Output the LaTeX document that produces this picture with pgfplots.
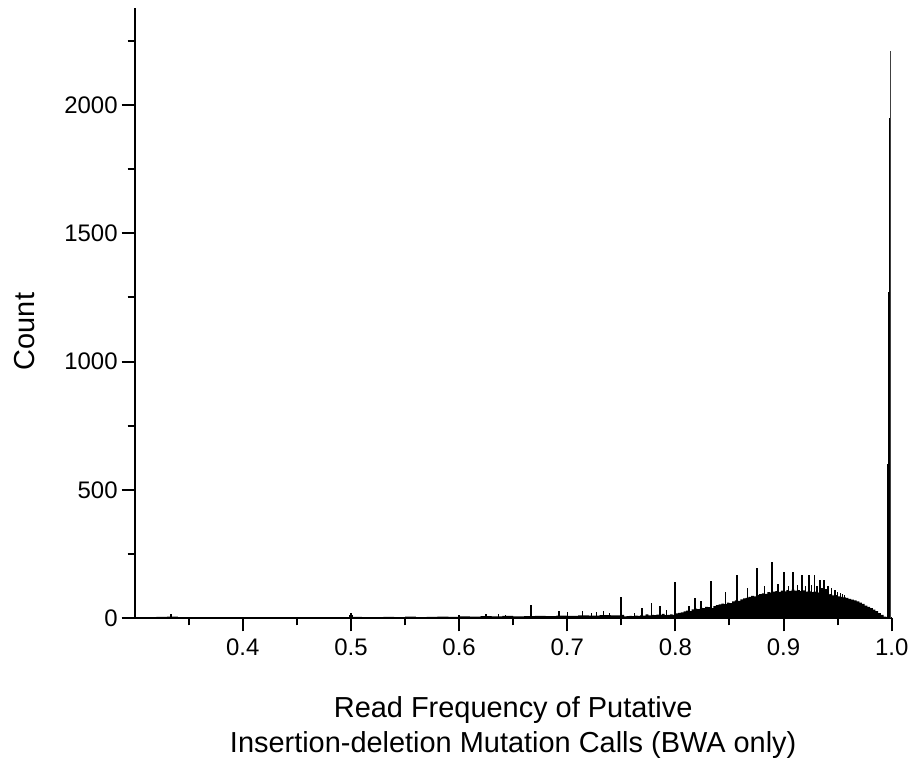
\documentclass[border=0pt]{standalone}
\usepackage{fontspec}
\setmainfont{Liberation Sans}
\usepackage{pgfplots}
\pgfplotsset{compat=1.18}

\begin{document}
\begin{tikzpicture}
\begin{axis}[
    scale only axis,
    width=379.5pt,
    height=306pt,
    xmin=0.3, xmax=1.0,
    ymin=0, ymax=2377,
    axis lines*=left,
    axis line style={line width=1pt},
    tick align=outside,
    major tick length=6.5pt,
    minor tick length=3.5pt,
    every tick/.style={line width=1pt, black},
    xtick={0.4,0.5,0.6,0.7,0.8,0.9,1.0},
    minor xtick={0.35,0.45,0.55,0.65,0.75,0.85,0.95},
    ytick={0,500,1000,1500,2000},
    minor ytick={250,750,1250,1750,2250},
    x tick label style={/pgf/number format/.cd, fixed, fixed zerofill, precision=1, /tikz/.cd},
    y tick label style={/pgf/number format/.cd, 1000 sep={}, /tikz/.cd, xshift=1.5pt},
    /pgf/number format/assume math mode=true,
    tick label style={font=\fontsize{12}{14}\selectfont},
    label style={font=\fontsize{14.5}{17.5}\selectfont},
    xlabel={Read Frequency of Putative\\Insertion-deletion Mutation Calls (BWA only)},
    xlabel style={align=center, yshift=-14pt},
    ylabel={Count},
    ylabel style={at={(ticklabel cs:0.47)}, yshift=8pt},
]
% background of the histogram (left edge of bin, count)
\addplot[fill=black, draw=none, const plot] table {
x y
0.300 5
0.310 4
0.320 6
0.330 7
0.340 4
0.350 5
0.360 3
0.370 5
0.380 4
0.390 3
0.400 4
0.410 3
0.420 5
0.430 3
0.440 4
0.450 3
0.460 5
0.470 4
0.480 3
0.490 5
0.500 6
0.510 4
0.520 5
0.530 6
0.540 5
0.550 7
0.560 5
0.570 6
0.580 7
0.590 6
0.600 8
0.610 7
0.620 9
0.630 8
0.640 10
0.650 8
0.660 9
0.670 10
0.680 9
0.690 11
0.700 10
0.710 12
0.720 11
0.730 13
0.740 12
0.750 14
0.7525 8
0.7550 9
0.7575 10
0.7600 9
0.7625 11
0.7650 10
0.7675 13
0.7700 11
0.7725 16
0.7750 12
0.7775 14
0.7800 13
0.7825 15
0.7850 14
0.7875 18
0.7900 13
0.7925 14
0.7950 16
0.7975 14
0.8000 20
0.8025 22
0.8050 24
0.8075 27
0.8100 30
0.8125 28
0.8150 35
0.8175 38
0.8200 36
0.8225 42
0.8250 40
0.8275 45
0.8300 44
0.8325 40
0.8350 48
0.8375 52
0.8400 55
0.8425 58
0.8450 56
0.8475 62
0.8500 60
0.8525 66
0.8550 70
0.8575 68
0.8600 74
0.8625 78
0.8650 80
0.8675 84
0.8700 88
0.8725 86
0.8750 92
0.8775 95
0.8800 98
0.8825 96
0.8850 102
0.8875 100
0.8900 104
0.8925 106
0.8950 103
0.8975 108
0.9000 105
0.9025 110
0.9050 107
0.9075 112
0.9100 108
0.9125 110
0.9150 106
0.9175 109
0.9200 104
0.9225 107
0.9250 102
0.9275 104
0.9300 100
0.9325 101
0.9350 97
0.9375 98
0.9400 94
0.9425 95
0.9450 90
0.9475 91
0.9500 86
0.9525 84
0.9550 82
0.9575 80
0.9600 76
0.9625 73
0.9650 70
0.9675 66
0.9700 62
0.9725 57
0.9750 50
0.9775 45
0.9800 40
0.9825 34
0.9850 28
0.9875 21
0.9900 14
0.9925 7
0.9950 3
0.9970 0
};
% narrow peaks at simple fractions
\addplot[ycomb, line width=1pt, black] table {
x y
0.3333 18
0.5000 22
0.6667 53
0.7500 85
0.8000 143
0.8333 147
0.8571 171
0.8750 198
0.8889 219
0.9000 182
0.9091 182
0.9167 168
0.9231 168
0.9286 171
0.9333 149
0.9375 149
};
\addplot[ycomb, line width=0.7pt, black] table {
x y
0.4985 14
0.5015 14
0.6000 14
0.6250 18
0.6364 16
0.6429 15
0.6923 30
0.7000 24
0.7143 30
0.7222 20
0.7273 25
0.7333 28
0.7391 20
0.7619 20
0.7692 39
0.7778 62
0.7857 48
0.7917 32
0.8125 49
0.8182 81
0.8235 66
0.8462 101
0.8667 120
0.8824 125
0.8947 136
0.9048 125
0.9130 130
0.9200 125
0.9259 130
0.9310 125
0.9355 120
0.9394 115
0.9412 127
0.9444 117
0.9474 110
0.9500 104
0.9524 98
0.9545 95
0.9565 90
};
% the large peak at a read frequency of 1.0
\addplot[ycomb, line width=0.8pt, black] table {
x y
0.9968 600
0.9975 1270
0.9982 1950
};
\addplot[ycomb, line width=0.7pt, black!75] table {
x y
0.9990 2210
};
\end{axis}
\path (-67.5pt,-73pt) rectangle (390pt,310pt);
\end{tikzpicture}
\end{document}
